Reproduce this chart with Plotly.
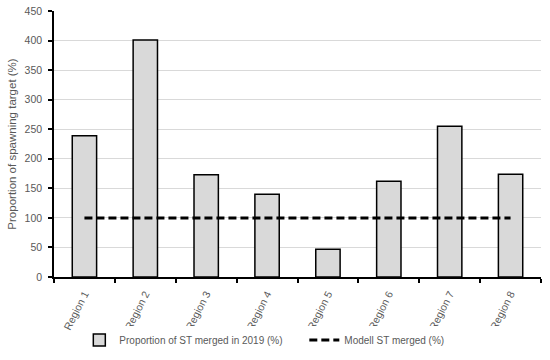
import plotly.graph_objects as go

regions = ["Region 1", "Region 2", "Region 3", "Region 4", "Region 5", "Region 6", "Region 7", "Region 8"]
proportion_2019 = [239, 401, 173, 140, 47, 162, 255, 174]
modell = [100, 100, 100, 100, 100, 100, 100, 100]
y_ticks = [0, 50, 100, 150, 200, 250, 300, 350, 400, 450]

font_fam = "Liberation Sans"
grey = "#595959"

fig = go.Figure()
fig.add_trace(go.Bar(
    x=regions, y=proportion_2019,
    name="Proportion of ST merged in 2019 (%)",
    marker=dict(color="#d9d9d9", line=dict(color="#000000", width=1.5)),
))
fig.add_trace(go.Scatter(
    x=regions, y=modell, mode="lines",
    name="Modell ST merged (%)",
    line=dict(color="#000000", width=3, dash="8px,4px"),
))

fig.update_layout(
    width=550, height=360,
    margin=dict(l=54, r=9, t=11, b=83, autoexpand=False),
    paper_bgcolor="white", plot_bgcolor="white",
    bargap=0.6,
    font=dict(family=font_fam, size=10, color=grey),
    showlegend=True,
    legend=dict(orientation="h", x=0.514, xanchor="center", y=-0.237, yanchor="middle",
                font=dict(size=10, color=grey), tracegroupgap=0,
                entrywidth=180, entrywidthmode="pixels"),
)
fig.update_xaxes(
    automargin=False,
    showline=True, linecolor="#000000", linewidth=1.5,
    ticks="outside", tickson="boundaries", ticklen=4, tickwidth=1.5, tickcolor="#000000",
    tickangle=-63, tickfont=dict(size=10.5, color=grey), ticklabelstandoff=5,
    showgrid=False,
)
fig.update_yaxes(
    automargin=False,
    range=[0, 450], tickvals=y_ticks,
    showline=True, linecolor="#000000", linewidth=1.5,
    ticks="outside", ticklen=4, tickwidth=1.5, tickcolor="#000000",
    showgrid=True, gridcolor="#d9d9d9", gridwidth=1,
    zeroline=False,
    tickfont=dict(size=10.5, color=grey), ticklabelstandoff=4,
    title=dict(text="Proportion of spawning target (%)", font=dict(size=11.5, color=grey), standoff=6),
)

# remove the browser's default 8px body margin so the figure fills the window exactly
fig.write_html("out.html", config={"displayModeBar": False},
               post_script="document.body.style.margin='0';")
